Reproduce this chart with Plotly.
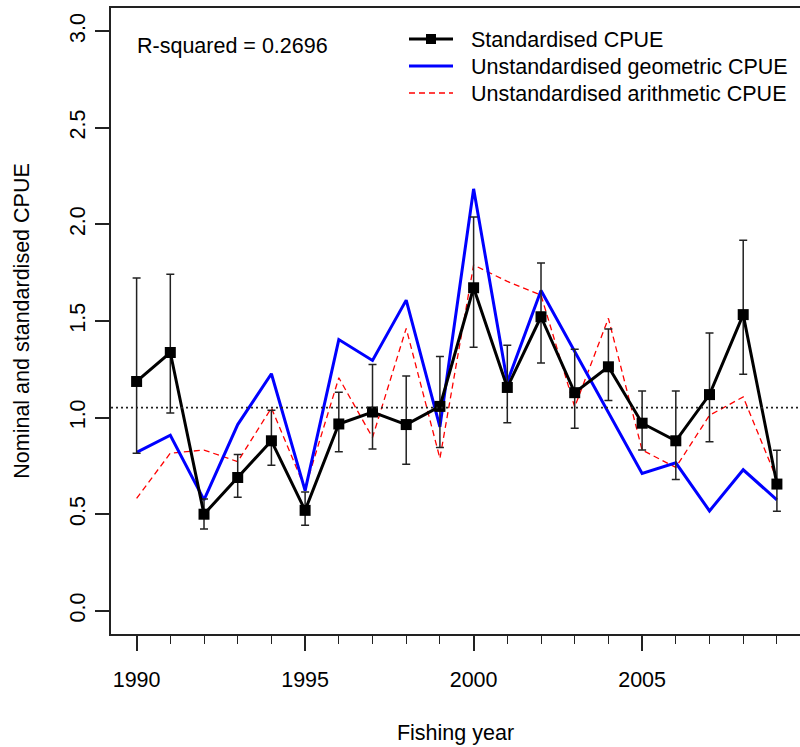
import plotly.graph_objects as go

years = list(range(1990, 2010))
standardised = [1.187, 1.337, 0.500, 0.690, 0.880, 0.520, 0.967, 1.029, 0.964, 1.058,
                1.672, 1.156, 1.522, 1.129, 1.263, 0.971, 0.880, 1.119, 1.533, 0.656]
std_upper = [1.723, 1.742, 0.579, 0.809, 1.038, 0.615, 1.131, 1.275, 1.215, 1.316,
             2.038, 1.375, 1.800, 1.354, 1.459, 1.138, 1.138, 1.438, 1.918, 0.831]
std_lower = [0.816, 1.024, 0.424, 0.588, 0.753, 0.443, 0.823, 0.838, 0.759, 0.845,
             1.364, 0.973, 1.282, 0.945, 1.088, 0.832, 0.680, 0.875, 1.225, 0.515]
geometric = [0.820, 0.909, 0.574, 0.964, 1.227, 0.622, 1.404, 1.296, 1.608, 0.952,
             2.184, 1.184, 1.658, 1.345, 1.030, 0.711, 0.766, 0.517, 0.730, 0.574]
arithmetic = [0.582, 0.816, 0.832, 0.772, 1.050, 0.634, 1.206, 0.897, 1.462, 0.789,
              1.790, 1.705, 1.634, 1.055, 1.514, 0.832, 0.742, 1.012, 1.107, 0.680]
ref_level = 1.052
r_squared_text = "R-squared = 0.2696"
legend_names = ["Standardised CPUE", "Unstandardised geometric CPUE", "Unstandardised arithmetic CPUE"]
y_ticks = [0.0, 0.5, 1.0, 1.5, 2.0, 2.5, 3.0]
x_major_ticks = [1990, 1995, 2000, 2005]

FONT = "Liberation Sans, Arial, Helvetica, sans-serif"
FS = 21.5

W, H = 800, 747
L, R, T, B = 111, 0, 8, 113
PW, PH = W - L - R, H - T - B

def px(x):
    return (x - L) / PW

def py(y):
    return (H - B - y) / PH

err_plus = [u - s for u, s in zip(std_upper, standardised)]
err_minus = [s - l for s, l in zip(standardised, std_lower)]

fig = go.Figure()
fig.add_trace(go.Scatter(x=years, y=arithmetic, mode="lines", name=legend_names[2],
                         line=dict(color="#ff0000", width=1.3, dash="6px,4px"), showlegend=False))
fig.add_trace(go.Scatter(x=years, y=geometric, mode="lines", name=legend_names[1],
                         line=dict(color="#0000ff", width=3), showlegend=False))
fig.add_trace(go.Scatter(x=years, y=standardised, mode="lines+markers", name=legend_names[0],
                         line=dict(color="black", width=3),
                         marker=dict(symbol="square", size=11, color="black"),
                         error_y=dict(type="data", symmetric=False, array=err_plus,
                                      arrayminus=err_minus, color="#222222",
                                      thickness=1.5, width=4),
                         showlegend=False))

# Reference dotted line
fig.add_shape(type="line", xref="paper", yref="y", x0=0, x1=1, y0=ref_level, y1=ref_level,
              line=dict(color="#222222", width=1.8, dash="2px,3px"))

# Manual legend
leg_y = [39, 66, 93]
styles = [dict(color="black", width=3), dict(color="#0000ff", width=3),
          dict(color="#ff0000", width=1.3, dash="6px,4px")]
for i, (name, st) in enumerate(zip(legend_names, styles)):
    fig.add_shape(type="line", xref="paper", yref="paper", x0=px(409), x1=px(453),
                  y0=py(leg_y[i]), y1=py(leg_y[i]), line=st)
    fig.add_annotation(xref="paper", yref="paper", x=px(469), y=py(leg_y[i] + 1),
                       text=name, showarrow=False, xanchor="left", yanchor="middle",
                       font=dict(family=FONT, size=FS, color="black"))
fig.add_shape(type="rect", xref="paper", yref="paper", x0=px(426), x1=px(436),
              y0=py(44), y1=py(34), fillcolor="black", line=dict(width=0))

fig.add_annotation(xref="paper", yref="paper", x=px(135), y=py(46), text=r_squared_text,
                   showarrow=False, xanchor="left", yanchor="middle",
                   font=dict(family=FONT, size=FS, color="black"))

fig.update_layout(
    width=W, height=H, margin=dict(l=L, r=R, t=T, b=B),
    paper_bgcolor="white", plot_bgcolor="white",
    font=dict(family=FONT, size=FS, color="black"),
    showlegend=False,
)
fig.update_xaxes(
    range=[1989.24, 1989.24 + PW / 33.7],
    tickmode="array", tickvals=x_major_ticks, ticktext=[str(v) for v in x_major_ticks],
    ticks="outside", ticklen=15, tickwidth=1.5, tickcolor="#222222",
    minor=dict(dtick=1, tick0=1990, ticks="outside", ticklen=8, tickwidth=1.3, tickcolor="#222222"),
    showline=True, linecolor="#222222", linewidth=2, mirror=True,
    showgrid=False, zeroline=False, ticklabelstandoff=10,
    tickfont=dict(family=FONT, size=FS, color="black"),
    title=dict(text="Fishing year", standoff=34, font=dict(family=FONT, size=FS, color="black")),
)
fig.update_yaxes(
    range=[-0.12, 3.12],
    tickmode="array", tickvals=y_ticks, ticktext=[f"{v:.1f}" for v in y_ticks],
    ticks="outside", ticklen=14, tickwidth=1.5, tickcolor="#222222", tickangle=-90,
    showline=True, linecolor="#222222", linewidth=1.5, mirror=False,
    showgrid=False, zeroline=False, ticklabelstandoff=2,
    tickfont=dict(family=FONT, size=FS, color="black"),
    title=dict(text="Nominal and standardised CPUE", standoff=30,
               font=dict(family=FONT, size=FS, color="black")),
)

fig.write_html("out.html")
